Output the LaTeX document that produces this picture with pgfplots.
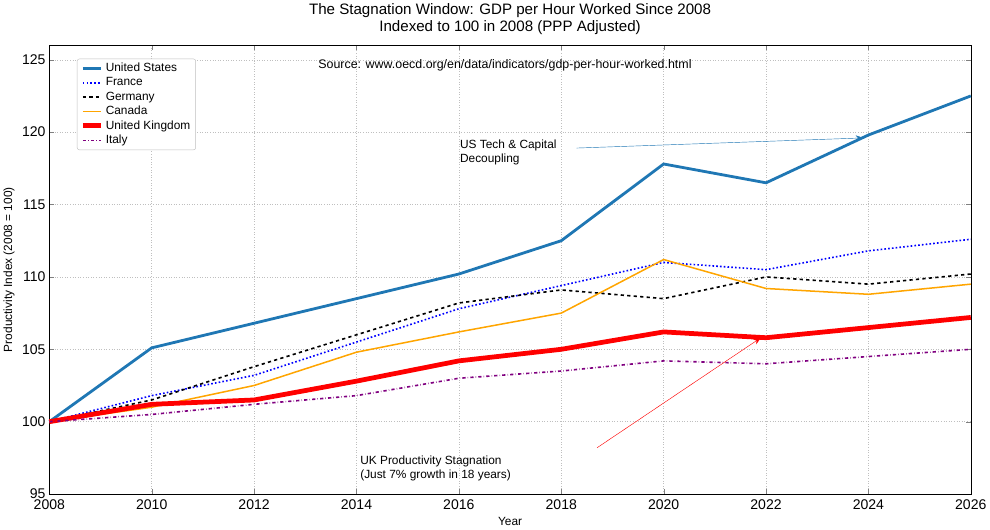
\documentclass[border=0pt]{standalone}
\usepackage{pgfplots}
\pgfplotsset{compat=1.18}
\usetikzlibrary{arrows.meta}
\usepackage{fontspec}
\setmainfont{Liberation Sans}
\begin{document}
\begin{tikzpicture}
\begin{axis}[
 scale only axis, width=850bp, height=414bp,
 xmin=2008, xmax=2026, ymin=95, ymax=126,
 xtick={2008,2010,...,2026}, ytick={95,100,...,125},
 /pgf/number format/1000 sep={}, /pgf/number format/assume math mode=true,
 tick label style={font=\fontsize{13}{15}\selectfont},
 xticklabel style={yshift=-2pt},
 grid=major, grid style={dotted, gray!50},
 xlabel={Year}, ylabel={Productivity Index (2008 = 100)},
 label style={font=\fontsize{11}{13}\selectfont},
 title style={font=\fontsize{14}{16}\selectfont, align=center},
 title={The Stagnation Window: GDP per Hour Worked Since 2008\\Indexed to 100 in 2008 (PPP Adjusted)},
 legend pos=north west, legend cell align=left,
 legend style={font=\fontsize{11}{14}\selectfont, draw=gray!50, rounded corners=2pt},
 clip=false,
]
\addplot[color={rgb,255:red,31;green,119;blue,180}, line width=2.6pt] coordinates {(2008,100)(2010,105.1)(2012,106.8)(2014,108.5)(2016,110.2)(2018,112.5)(2020,117.8)(2022,116.5)(2024,119.8)(2026,122.5)};
\addlegendentry{United States}
\addplot[blue, dotted, line width=1.5pt] coordinates {(2008,100)(2010,101.8)(2012,103.2)(2014,105.5)(2016,107.8)(2018,109.4)(2020,111.0)(2022,110.5)(2024,111.8)(2026,112.6)};
\addlegendentry{France}
\addplot[black, dashed, line width=1.5pt] coordinates {(2008,100)(2010,101.5)(2012,103.8)(2014,106.0)(2016,108.2)(2018,109.1)(2020,108.5)(2022,110.0)(2024,109.5)(2026,110.2)};
\addlegendentry{Germany}
\addplot[color={rgb,255:red,255;green,165;blue,0}, line width=1.4pt] coordinates {(2008,100)(2010,101.0)(2012,102.5)(2014,104.8)(2016,106.2)(2018,107.5)(2020,111.2)(2022,109.2)(2024,108.8)(2026,109.5)};
\addlegendentry{Canada}
\addplot[red, line width=4.4pt] coordinates {(2008,100)(2010,101.2)(2012,101.5)(2014,102.8)(2016,104.2)(2018,105.0)(2020,106.2)(2022,105.8)(2024,106.5)(2026,107.2)};
\addlegendentry{United Kingdom}
\addplot[color={rgb,255:red,128;green,0;blue,128}, dash dot, line width=1.5pt] coordinates {(2008,100)(2010,100.5)(2012,101.2)(2014,101.8)(2016,103.0)(2018,103.5)(2020,104.2)(2022,104.0)(2024,104.5)(2026,105.0)};
\addlegendentry{Italy}
\node[font=\fontsize{11.5}{13}\selectfont] at (axis cs:2016.9,124.6) {Source: www.oecd.org/en/data/indicators/gdp-per-hour-worked.html};
\node[anchor=west, align=left, font=\fontsize{11}{13}\selectfont] at (axis cs:2015.95,118.6) {US Tech \& Capital\\Decoupling};
\draw[-{Stealth[length=7pt]}, color={rgb,255:red,31;green,119;blue,180}] (axis cs:2018.3,118.9) -- (axis cs:2023.9,119.6);
\node[anchor=west, align=left, font=\fontsize{11}{13}\selectfont] at (axis cs:2014,96.8) {UK Productivity Stagnation\\(Just 7\% growth in 18 years)};
\draw[-{Stealth[length=7pt]}, red] (axis cs:2018.7,98.2) -- (axis cs:2021.9,105.8);
\end{axis}
\end{tikzpicture}
\end{document}
